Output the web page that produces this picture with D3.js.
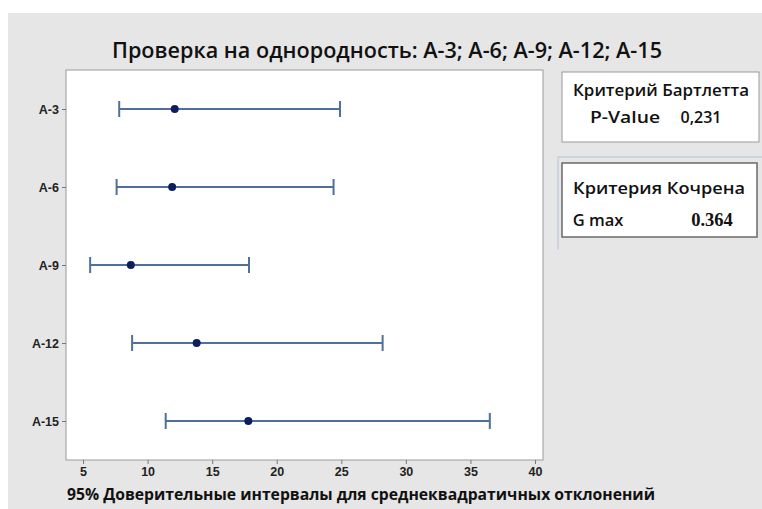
<!DOCTYPE html>
<html>
<head>
<meta charset="utf-8">
<script src="https://cdn.jsdelivr.net/npm/d3@7"></script>
<style>
    body { margin: 0; background: #fff; }
    svg { display: block; font-family: "Open Sans", "Noto Sans", sans-serif; }
    .tick text { font-weight: 700; fill: #222; }
</style>
</head>
<body>
<svg id="chart" width="762" height="509"></svg>
<script>
    // values
    const groups = ["A-3", "A-6", "A-9", "A-12", "A-15"];
    const lower  = [7.8, 7.6, 5.55, 8.8, 11.4];
    const center = [12.1, 11.9, 8.7, 13.8, 17.8];
    const upper  = [24.9, 24.4, 17.85, 28.2, 36.5];
    const xTicks = [5, 10, 15, 20, 25, 30, 35, 40];

    const title = "Проверка на однородность: A-3; A-6; A-9; A-12; A-15";
    const xTitle = "95% Доверительные интервалы для среднеквадратичных отклонений";

    const plot = {left: 66, top: 70, right: 543, bottom: 460};

    const svg = d3.select("#chart");

    // grey page background
    svg.append("rect").attr("x", 8).attr("y", 13).attr("width", 754).attr("height", 496)
        .attr("fill", "#e6e6e6");

    svg.append("text").attr("x", 387).attr("y", 58).attr("text-anchor", "middle")
        .attr("font-size", 21).attr("font-weight", 600).attr("fill", "#111")
        .attr("textLength", 550).attr("lengthAdjust", "spacingAndGlyphs")
        .text(title);

    // plot area
    svg.append("rect")
        .attr("x", plot.left).attr("y", plot.top)
        .attr("width", plot.right - plot.left).attr("height", plot.bottom - plot.top)
        .attr("fill", "#fff").attr("stroke", "#9a9a9a");

    const x = d3.scaleLinear().domain([3.68, 40.62]).range([plot.left, plot.right]);
    const y = d3.scalePoint().domain(groups).range([plot.top, plot.bottom]).padding(0.5);

    const xAxis = svg.append("g").attr("transform", "translate(0," + plot.bottom + ")")
        .call(d3.axisBottom(x).tickValues(xTicks).tickSize(4).tickPadding(3));
    xAxis.select(".domain").remove();
    xAxis.selectAll(".tick line").attr("stroke", "#777");
    xAxis.selectAll(".tick text").attr("font-size", 12.5);

    const yAxis = svg.append("g").attr("transform", "translate(" + plot.left + ",0)")
        .call(d3.axisLeft(y).tickSize(4).tickPadding(3));
    yAxis.select(".domain").remove();
    yAxis.selectAll(".tick line").attr("stroke", "#777");
    yAxis.selectAll(".tick text").attr("font-size", 12.5);

    svg.append("text").attr("x", 361).attr("y", 500).attr("text-anchor", "middle")
        .attr("font-size", 16).attr("font-weight", 700).attr("fill", "#111")
        .attr("textLength", 588).attr("lengthAdjust", "spacingAndGlyphs")
        .text(xTitle);

    // intervals
    const rows = groups.map((g, i) => ({g: g, lo: lower[i], c: center[i], hi: upper[i]}));
    const bars = svg.append("g").selectAll("g").data(rows).enter().append("g");
    const lineColor = "#4f6f9c";

    bars.append("line")
        .attr("x1", d => x(d.lo)).attr("x2", d => x(d.hi))
        .attr("y1", d => y(d.g)).attr("y2", d => y(d.g))
        .attr("stroke", lineColor).attr("stroke-width", 2);
    bars.append("line")
        .attr("x1", d => x(d.lo)).attr("x2", d => x(d.lo))
        .attr("y1", d => y(d.g) - 8).attr("y2", d => y(d.g) + 8)
        .attr("stroke", lineColor).attr("stroke-width", 2);
    bars.append("line")
        .attr("x1", d => x(d.hi)).attr("x2", d => x(d.hi))
        .attr("y1", d => y(d.g) - 8).attr("y2", d => y(d.g) + 8)
        .attr("stroke", lineColor).attr("stroke-width", 2);
    bars.append("circle")
        .attr("cx", d => x(d.c)).attr("cy", d => y(d.g)).attr("r", 4)
        .attr("fill", "#0c1f5c");

    // Bartlett box
    svg.append("rect").attr("x", 562).attr("y", 72).attr("width", 197).attr("height", 70)
        .attr("fill", "#fff").attr("stroke", "#9a9a9a");
    svg.append("text").attr("x", 661).attr("y", 96).attr("text-anchor", "middle")
        .attr("font-size", 16).attr("font-weight", 600).attr("fill", "#111")
        .attr("textLength", 176).attr("lengthAdjust", "spacingAndGlyphs")
        .text("Критерий Бартлетта");
    svg.append("text").attr("x", 625).attr("y", 123).attr("text-anchor", "middle")
        .attr("font-size", 16).attr("font-weight", 600).attr("fill", "#111")
        .attr("textLength", 70).attr("lengthAdjust", "spacingAndGlyphs")
        .text("P-Value");
    svg.append("text").attr("x", 701).attr("y", 123).attr("text-anchor", "middle")
        .attr("font-size", 16).attr("font-weight", 600).attr("fill", "#111")
        .text("0,231");

    // Cochran box (with faint outer frame)
    svg.append("path").attr("d", "M558,250 V157 H762")
        .attr("fill", "none").attr("stroke", "#c8d0dc").attr("stroke-width", 1.5);
    svg.append("rect").attr("x", 562).attr("y", 163).attr("width", 195).attr("height", 74)
        .attr("fill", "#fff").attr("stroke", "#6a6a6a").attr("stroke-width", 1.5);
    svg.append("text").attr("x", 659).attr("y", 194).attr("text-anchor", "middle")
        .attr("font-size", 16).attr("font-weight", 600).attr("fill", "#111")
        .attr("textLength", 172).attr("lengthAdjust", "spacingAndGlyphs")
        .text("Критерия Кочрена");
    svg.append("text").attr("x", 598).attr("y", 226).attr("text-anchor", "middle")
        .attr("font-size", 16.5).attr("font-weight", 600).attr("fill", "#111")
        .text("G max");
    svg.append("text").attr("x", 712).attr("y", 226).attr("text-anchor", "middle")
        .attr("font-size", 18.5).attr("font-weight", 700).attr("fill", "#111")
        .attr("font-family", "'Liberation Serif', serif")
        .text("0.364");
</script>
</body>
</html>
